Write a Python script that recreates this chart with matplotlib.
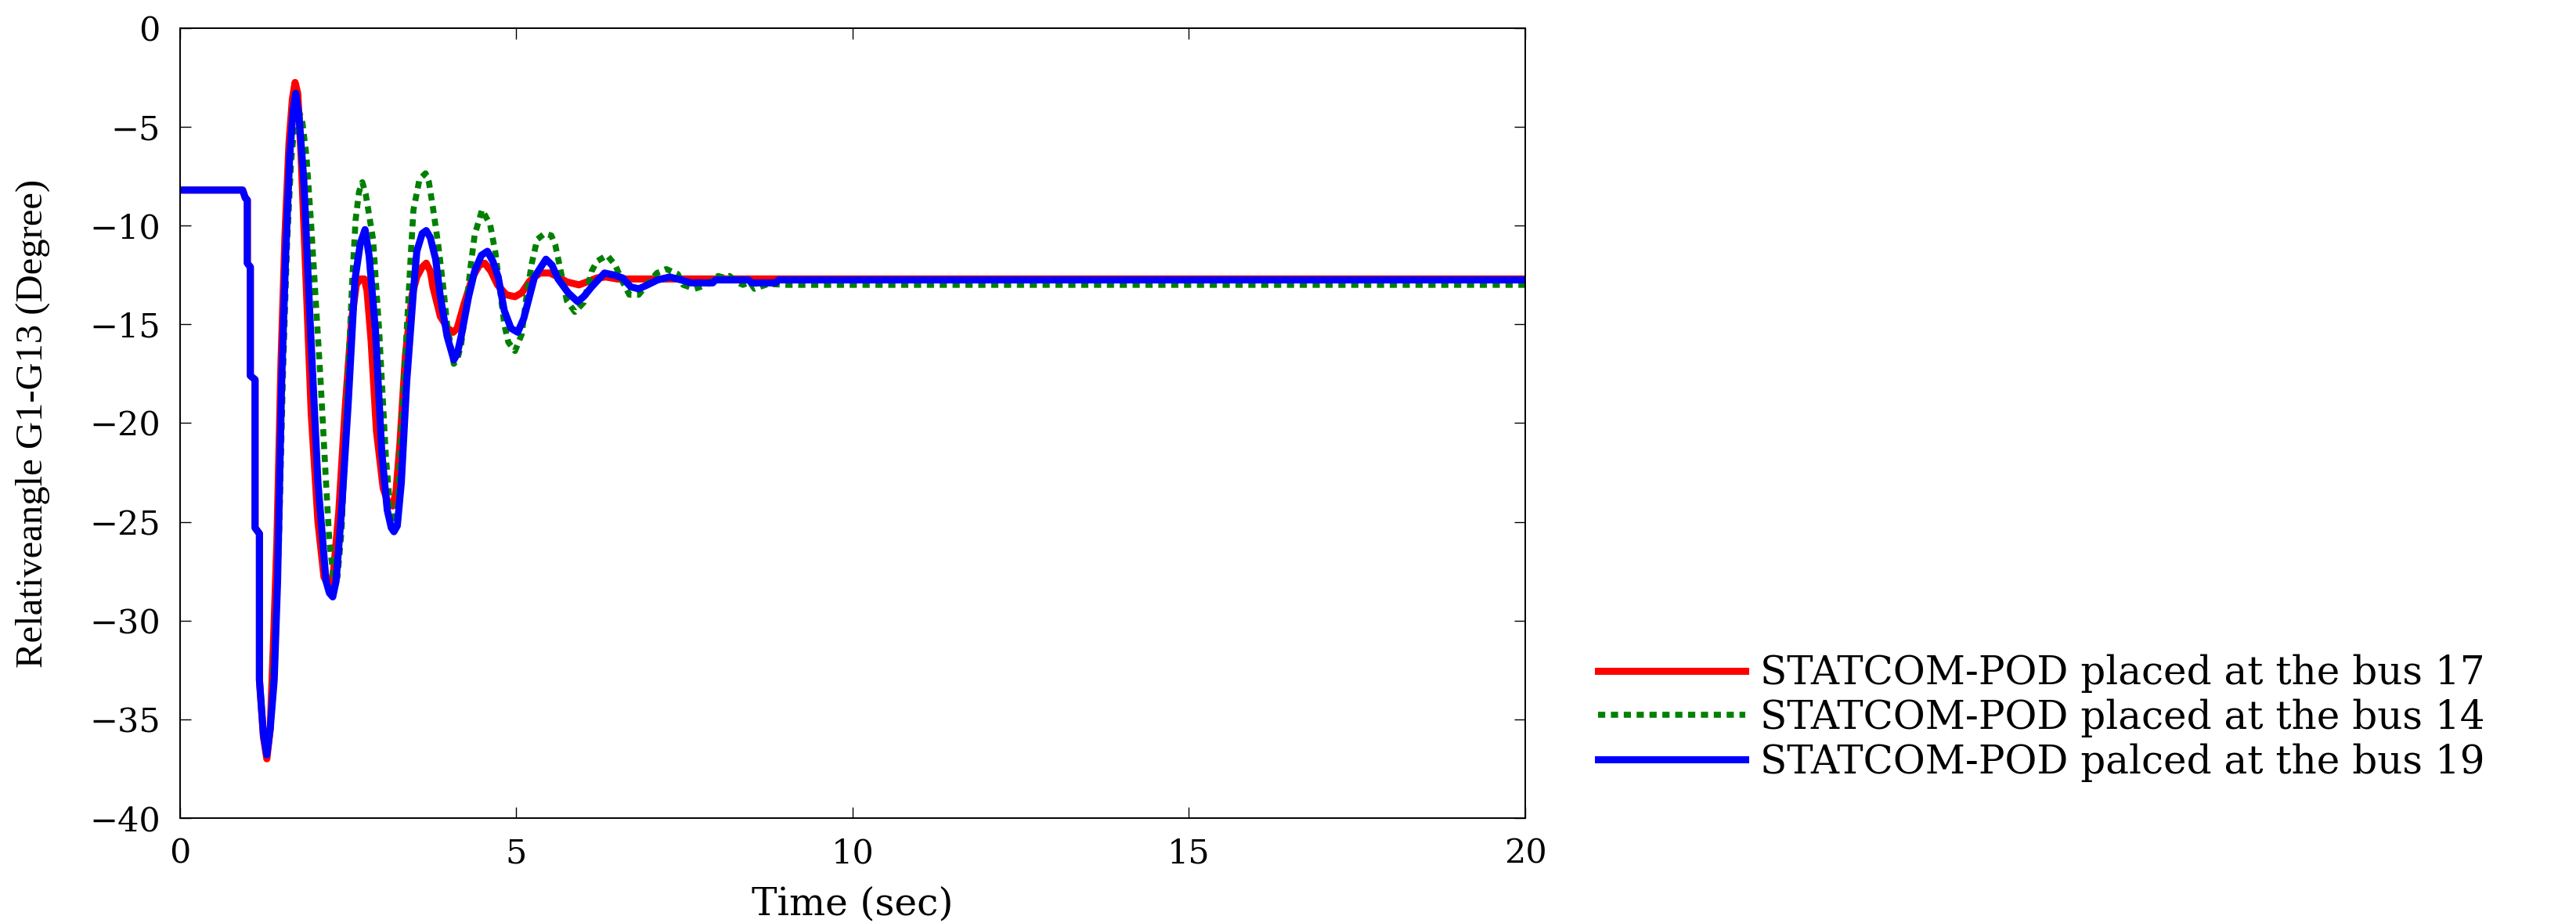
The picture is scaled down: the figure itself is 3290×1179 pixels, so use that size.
import numpy as np
import matplotlib
matplotlib.use("Agg")
import matplotlib.pyplot as plt

# relative angle G1-G13 (deg) vs time (s)
t_bus17 = [0, 0.93, 0.97, 1.0, 1.0, 1.045, 1.045, 1.115, 1.115, 1.18, 1.18, 1.24, 1.29,
           1.34, 1.39, 1.44, 1.50, 1.56, 1.62, 1.67, 1.71, 1.75, 1.80, 1.87, 1.95, 2.05,
           2.14, 2.22, 2.28, 2.36, 2.45, 2.55, 2.62, 2.68, 2.74, 2.78, 2.84, 2.92, 3.02,
           3.10, 3.16, 3.21, 3.27, 3.35, 3.45, 3.52, 3.60, 3.66, 3.72, 3.76, 3.87, 3.98,
           4.06, 4.12, 4.22, 4.35, 4.45, 4.53, 4.62, 4.72, 4.85, 4.98, 5.08, 5.20, 5.35,
           5.50, 5.62, 5.75, 5.93, 6.05, 6.20, 6.33, 6.50, 20]
y_bus17 = [-8.2, -8.2, -8.6, -8.7, -11.9, -12.1, -17.6, -17.8, -25.3, -25.6, -33.0, -35.9, -37.0,
           -35.5, -31.0, -26.0, -17.0, -10.5, -5.8, -3.6, -2.75, -3.3, -6.5, -12.5, -19.5, -25.0,
           -27.8, -28.3, -27.6, -24.5, -19.5, -14.8, -13.0, -12.7, -12.7, -13.3, -15.8, -20.4, -23.3,
           -24.1, -24.2, -23.5, -21.0, -16.6, -13.5, -12.6, -12.1, -11.9, -12.3, -13.1, -14.6, -15.2,
           -15.4, -15.2, -14.0, -12.6, -12.0, -11.9, -12.3, -13.0, -13.5, -13.6, -13.4, -12.8, -12.4,
           -12.4, -12.6, -12.85, -13.0, -12.85, -12.65, -12.6, -12.7, -12.7]

t_bus14 = [0, 0.93, 0.97, 1.0, 1.0, 1.045, 1.045, 1.115, 1.115, 1.18, 1.18, 1.24, 1.29,
           1.35, 1.41, 1.47, 1.53, 1.59, 1.65, 1.71, 1.76, 1.82, 1.88, 1.95, 2.00, 2.09,
           2.17, 2.22, 2.29, 2.34, 2.40, 2.48, 2.56, 2.61, 2.66, 2.71, 2.76, 2.87, 2.96,
           3.06, 3.12, 3.18, 3.23, 3.29, 3.37, 3.43, 3.47, 3.56, 3.65, 3.70, 3.76, 3.84,
           3.91, 3.97, 4.07, 4.12, 4.18, 4.26, 4.32, 4.38, 4.49, 4.61, 4.69, 4.77, 4.82,
           4.88, 4.98, 5.08, 5.15, 5.23, 5.31, 5.42, 5.52, 5.58, 5.66, 5.75, 5.87, 6.00,
           6.12, 6.20, 6.35, 6.47, 6.58, 6.68, 6.82, 6.97, 7.09, 7.23, 7.40, 7.48, 7.65,
           7.83, 8.00, 8.10, 8.17, 8.30, 8.37, 8.47, 8.54, 8.62, 8.75, 9.00, 20]
y_bus14 = [-8.2, -8.2, -8.6, -8.7, -11.9, -12.1, -17.6, -17.8, -25.3, -25.6, -33.0, -35.6, -36.6,
           -35.0, -31.0, -26.0, -17.5, -11.0, -6.8, -4.6, -4.1, -4.8, -6.5, -10.0, -12.8, -17.9,
           -23.0, -26.0, -28.0, -27.8, -25.5, -19.0, -12.75, -9.7, -8.3, -7.8, -8.4, -10.7, -15.3,
           -21.7, -24.2, -25.1, -24.5, -20.4, -15.3, -11.5, -9.2, -7.65, -7.35, -7.8, -9.1, -11.0,
           -13.0, -15.0, -17.0, -16.8, -16.0, -13.9, -12.06, -10.47, -9.2, -9.94, -11.4, -13.6, -15.0,
           -15.9, -16.35, -15.5, -13.6, -11.9, -10.7, -10.4, -10.5, -11.0, -12.3, -13.8, -14.37, -13.9,
           -12.3, -11.8, -11.5, -12.0, -12.85, -13.5, -13.5, -12.85, -12.4, -12.2, -12.45, -13.0, -13.2,
           -13.0, -12.55, -12.65, -12.55, -12.9, -13.0, -12.85, -13.2, -13.1, -12.95, -13.0, -13.0]

t_bus19 = [0, 0.93, 0.97, 1.0, 1.0, 1.045, 1.045, 1.115, 1.115, 1.18, 1.18, 1.24, 1.29,
           1.34, 1.40, 1.45, 1.51, 1.57, 1.63, 1.68, 1.72, 1.77, 1.84, 1.94, 2.05, 2.17,
           2.22, 2.27, 2.32, 2.40, 2.50, 2.60, 2.68, 2.75, 2.81, 2.905, 3.00, 3.08, 3.14,
           3.18, 3.23, 3.29, 3.37, 3.47, 3.52, 3.60, 3.66, 3.72, 3.80, 3.87, 3.97, 4.07,
           4.12, 4.18, 4.29, 4.38, 4.48, 4.57, 4.65, 4.73, 4.82, 4.92, 5.02, 5.11, 5.27,
           5.44, 5.53, 5.62, 5.77, 5.91, 6.00, 6.12, 6.31, 6.45, 6.58, 6.70, 6.82, 6.95,
           7.10, 7.28, 7.45, 7.60, 7.92, 7.96, 8.45, 8.50, 8.85, 8.90, 20]
y_bus19 = [-8.2, -8.2, -8.6, -8.7, -11.9, -12.1, -17.6, -17.8, -25.3, -25.6, -33.0, -35.8, -36.8,
           -35.5, -33.0, -28.0, -18.0, -11.5, -6.5, -4.2, -3.3, -4.5, -7.7, -15.3, -23.0, -28.0,
           -28.6, -28.8, -28.0, -24.5, -19.0, -12.75, -10.9, -10.2, -11.5, -15.3, -21.5, -24.4, -25.3,
           -25.5, -25.2, -23.0, -17.9, -13.3, -11.3, -10.4, -10.25, -10.6, -11.7, -13.6, -15.6, -16.8,
           -16.5, -15.6, -13.6, -12.3, -11.5, -11.3, -11.8, -12.6, -14.3, -15.2, -15.4, -14.7, -12.6,
           -11.7, -12.0, -12.7, -13.4, -13.85, -13.6, -13.1, -12.4, -12.5, -12.65, -13.1, -13.2, -13.0,
           -12.75, -12.6, -12.75, -12.9, -12.9, -12.75, -12.75, -12.9, -12.9, -12.75, -12.75]

labels = ["STATCOM-POD placed at the bus 17",
          "STATCOM-POD placed at the bus 14",
          "STATCOM-POD palced at the bus 19"]
x_ticks = [0, 5, 10, 15, 20]
y_ticks = [0, -5, -10, -15, -20, -25, -30, -35, -40]

plt.rcParams['font.family'] = ['DejaVu Serif']

fig = plt.figure(figsize=(32.9, 11.79), dpi=100)
ax = fig.add_axes([0.0699, 0.1137, 0.5222, 0.8558])

ax.plot(t_bus17, y_bus17, color='#ff0000', lw=6.5, label=labels[0])
ax.plot(t_bus14, y_bus14, color='#008000', lw=5.5, linestyle=(0, (1.2, 0.95)),
        dash_capstyle='butt', label=labels[1])
ax.plot(t_bus19, y_bus19, color='#0000ff', lw=6.5, label=labels[2])

ax.set_xlim(0, 20)
ax.set_ylim(-40, 0)
ax.set_xticks(x_ticks)
ax.set_yticks(y_ticks)
ax.tick_params(direction='in', top=True, right=True, length=10, width=1.0,
               labelsize=31, pad=18)
for s in ax.spines.values():
    s.set_linewidth(1.4)

ax.set_xlabel("Time (sec)", fontsize=35, labelpad=14)
ax.set_ylabel("Relativeangle G1-G13 (Degree)", fontsize=35,
              family='Liberation Serif', labelpad=36)

fig.legend(loc='center left', bbox_to_anchor=(0.6204, 0.222), frameon=False,
           fontsize=36, handlelength=3.75, handletextpad=0.38, labelspacing=0.15,
           borderpad=0, borderaxespad=0)

fig.savefig("out.png", dpi=100)
